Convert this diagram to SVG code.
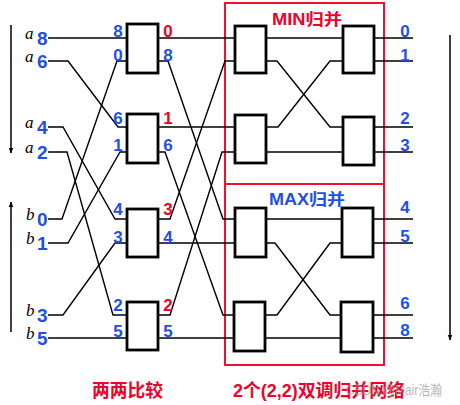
<svg xmlns="http://www.w3.org/2000/svg" width="460" height="405" viewBox="0 0 460 405">
<style>
.box{fill:#fff;stroke:#000;stroke-width:2.8}
.w{fill:none;stroke:#000;stroke-width:1.4}
.frame{fill:none;stroke:#f0102e;stroke-width:2}
.d{font-family:"Liberation Sans",Arial,sans-serif;font-weight:bold;font-size:17px;fill:#1f4fe8;text-anchor:middle}
.r{fill:#f0002a}
.in{font-family:"Liberation Sans",Arial,sans-serif;font-weight:bold;font-size:19px;fill:#1f4fe8}
.v{font-family:"Liberation Serif","Times New Roman",serif;font-style:italic;font-size:17px;fill:#000}
.t{font-family:"Liberation Sans","Noto Sans CJK SC",sans-serif;font-weight:bold;fill:#f0002a}
.arr{fill:none;stroke:#000;stroke-width:1.5}
</style>
<defs>
<marker id="ah" viewBox="0 0 10 10" refX="9" refY="5" markerWidth="6" markerHeight="8" markerUnits="userSpaceOnUse" orient="auto">
<path d="M0,1 L10,5 L0,9 Z" fill="#000"/>
</marker>
</defs>
<rect width="460" height="405" fill="#fff"/>

<g id="frames">
<rect class="frame" x="225" y="3" width="159" height="181"/>
<rect class="frame" x="225" y="184" width="159" height="181"/>
</g>

<g id="arrows">
<line class="arr" x1="11" y1="25" x2="11" y2="153" marker-end="url(#ah)"/>
<line class="arr" x1="11" y1="332" x2="11" y2="202" marker-end="url(#ah)"/>
<line class="arr" x1="450" y1="35" x2="450" y2="340" marker-end="url(#ah)"/>
</g>

<g id="connectors">
<path class="w" d="M48,38 H127"/>
<path class="w" d="M48,61 H68 L118,127 H127"/>
<path class="w" d="M48,127 H63 L115,219 H127"/>
<path class="w" d="M48,152 H67 L113,315 H127"/>
<path class="w" d="M48,219 H62 L117,61 H127"/>
<path class="w" d="M48,243 H68 L120,152 H127"/>
<path class="w" d="M48,315 H63 L115,243 H127"/>
<path class="w" d="M48,338 H127"/>

<path class="w" d="M158,38 H235"/>
<path class="w" d="M158,61 H168 L223,219 H235"/>
<path class="w" d="M158,127 H235"/>
<path class="w" d="M158,152 H165 L223,315 H235"/>
<path class="w" d="M158,219 H170 L225,61 H235"/>
<path class="w" d="M158,243 H235"/>
<path class="w" d="M158,315 H170 L222,152 H235"/>
<path class="w" d="M158,338 H235"/>

<path class="w" d="M266,38 H343"/>
<path class="w" d="M266,61 H277 L330,127 H343"/>
<path class="w" d="M266,127 H278 L330,61 H343"/>
<path class="w" d="M266,152 H343"/>
<path class="w" d="M266,219 H343"/>
<path class="w" d="M266,243 H275 L330,315 H343"/>
<path class="w" d="M266,315 H277 L330,243 H343"/>
<path class="w" d="M266,338 H343"/>

<path class="w" d="M374,38 H413 M374,61 H413 M374,127 H413 M374,152 H413 M374,219 H413 M374,243 H413 M374,315 H413 M374,338 H413"/>
</g>

<g id="c1a"><rect class="box" x="127" y="24" width="31" height="49"/></g>
<g id="c1b"><rect class="box" x="127" y="114" width="31" height="49"/></g>
<g id="c1c"><rect class="box" x="127" y="209" width="31" height="48"/></g>
<g id="c1d"><rect class="box" x="127" y="302" width="31" height="48"/></g>
<g id="c2a"><rect class="box" x="235" y="26" width="31" height="47"/></g>
<g id="c2b"><rect class="box" x="235" y="115" width="31" height="48"/></g>
<g id="c2c"><rect class="box" x="235" y="208" width="31" height="49"/></g>
<g id="c2d"><rect class="box" x="234" y="302" width="31" height="49"/></g>
<g id="c3a"><rect class="box" x="343" y="26" width="31" height="47"/></g>
<g id="c3b"><rect class="box" x="343" y="117" width="31" height="48"/></g>
<g id="c3c"><rect class="box" x="342" y="208" width="31" height="49"/></g>
<g id="c3d"><rect class="box" x="341" y="302" width="32" height="50"/></g>

<g id="inputs">
<text class="v" x="25" y="39">a</text><text class="in" x="37" y="45">8</text>
<text class="v" x="25" y="62">a</text><text class="in" x="37" y="68">6</text>
<text class="v" x="25" y="128">a</text><text class="in" x="37" y="134">4</text>
<text class="v" x="25" y="153">a</text><text class="in" x="37" y="159">2</text>
<text class="v" x="26" y="220">b</text><text class="in" x="37" y="226">0</text>
<text class="v" x="26" y="244">b</text><text class="in" x="37" y="250">1</text>
<text class="v" x="26" y="316">b</text><text class="in" x="37" y="322">3</text>
<text class="v" x="26" y="339">b</text><text class="in" x="37" y="345">5</text>
</g>

<g id="labels1">
<text class="d" x="118" y="37">8</text><text class="d" x="118" y="61">0</text>
<text class="d r" x="168" y="37">0</text><text class="d" x="168" y="61">8</text>
<text class="d" x="118" y="124">6</text><text class="d" x="118" y="151">1</text>
<text class="d r" x="168" y="124">1</text><text class="d" x="168" y="151">6</text>
<text class="d" x="118" y="215">4</text><text class="d" x="118" y="243">3</text>
<text class="d r" x="168" y="215">3</text><text class="d" x="168" y="243">4</text>
<text class="d" x="118" y="311">2</text><text class="d" x="118" y="337">5</text>
<text class="d r" x="168" y="311">2</text><text class="d" x="168" y="337">5</text>
</g>

<g id="outputs">
<text class="d" x="405" y="37">0</text>
<text class="d" x="405" y="61">1</text>
<text class="d" x="405" y="124">2</text>
<text class="d" x="405" y="151">3</text>
<text class="d" x="405" y="213">4</text>
<text class="d" x="405" y="242">5</text>
<text class="d" x="405" y="309">6</text>
<text class="d" x="405" y="336">8</text>
</g>

<g id="titles">
<text class="t" x="272" y="25" font-size="16" textLength="70" lengthAdjust="spacingAndGlyphs">MIN归并</text>
<text class="t" x="269" y="205" font-size="16" textLength="76" lengthAdjust="spacingAndGlyphs" style="fill:#1f4fe8">MAX归并</text>
<text class="t" x="92" y="397" font-size="18" textLength="71" lengthAdjust="spacingAndGlyphs">两两比较</text>
<text class="t" x="233" y="397" font-size="18" textLength="172" lengthAdjust="spacingAndGlyphs">2个(2,2)双调归并网络</text>
<text x="346" y="395" font-family="'Liberation Sans','Noto Sans CJK SC',sans-serif" font-size="14" fill="#a0a0a0" fill-opacity="0.75" textLength="96" lengthAdjust="spacingAndGlyphs">CSDN @Mair浩瀚</text>
</g>
</svg>
